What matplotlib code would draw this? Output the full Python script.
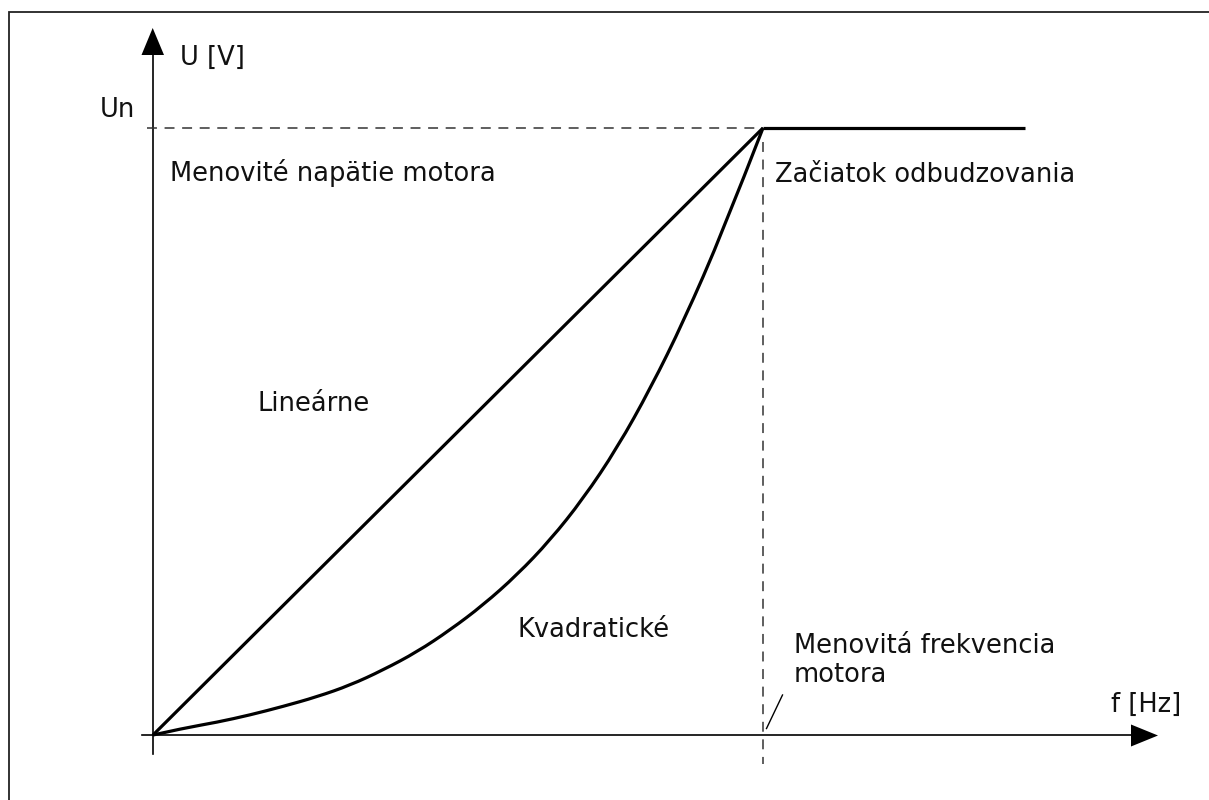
import matplotlib
matplotlib.use("Agg")
import matplotlib.pyplot as plt
from matplotlib.patches import Polygon, PathPatch
from matplotlib.path import Path

# ---- data (normalized: f / f_n, U / U_n) ----
lin_f = [0.0, 1.0]
lin_u = [0.0, 1.0]

quad_f = [0.0, 0.049, 0.105, 0.159, 0.213, 0.269, 0.323, 0.377, 0.433, 0.487,
          0.541, 0.597, 0.651, 0.705, 0.761, 0.816, 0.870, 0.934, 1.0]
quad_u = [0.0, 0.011, 0.021, 0.033, 0.047, 0.063, 0.082, 0.107, 0.137, 0.173,
          0.214, 0.264, 0.321, 0.389, 0.473, 0.572, 0.682, 0.829, 1.0]

flat_f = [1.0, 1.43]
flat_u = [1.0, 1.0]

labels = {
    "y_axis": "U [V]",
    "x_axis": "f [Hz]",
    "un": "Un",
    "rated_voltage": "Menovité napätie motora",
    "field_weakening": "Začiatok odbudzovania",
    "linear": "Lineárne",
    "quadratic": "Kvadratické",
    "rated_freq_1": "Menovitá frekvencia",
    "rated_freq_2": "motora",
}

# ---- layout helpers (pixel -> data) ----
W, H = 1209, 800
X0, Y0 = 153.0, 735.0
SX, SY = 610.0, 607.0


def fx(x):
    return (x - X0) / SX


def uy(y):
    return (Y0 - y) / SY


def P(x, y):
    return (fx(x), uy(y))


fig = plt.figure(figsize=(W / 100, H / 100), dpi=100)
ax = fig.add_axes([0, 0, 1, 1])
ax.set_xlim(fx(0), fx(W))
ax.set_ylim(uy(H), uy(0))
ax.axis("off")

FONT = "DejaVu Sans"
FS = 18.5
TXT = "#111111"

# frame (only left and top visible)
ax.plot([fx(9), fx(9), fx(W + 5)], [uy(H + 5), uy(12), uy(12)],
        color="#222222", lw=1.3, solid_joinstyle="miter", clip_on=False)

# axes lines
ax.plot([fx(142), fx(1135)], [0, 0], color="black", lw=1.2)
ax.plot([0, 0], [uy(754), uy(50)], color="black", lw=1.2)

# arrow heads
ax.add_patch(Polygon([P(1131, 724.5), P(1158, 735.5), P(1131, 746.5)],
                     closed=True, color="black", lw=0))
ax.add_patch(Polygon([P(141.5, 55), P(152.7, 28), P(164, 55)],
                     closed=True, color="black", lw=0))

# dashed reference lines
dash = (0, (6.5, 5.0))
ax.plot([fx(147), 1.0], [1.0, 1.0], color="#333333", lw=1.1, linestyle=dash)
ax.plot([1.0, 1.0], [uy(142), uy(764)], color="#333333", lw=1.1, linestyle=dash)

# curves
ax.plot(lin_f, lin_u, color="black", lw=2.3, solid_capstyle="butt")

# quadratic curve rendered as a smooth quadratic-Bezier path through the read points
pts = list(zip(quad_f, quad_u))
verts = [pts[0]]
codes = [Path.MOVETO]
for i in range(1, len(pts) - 1):
    if i < len(pts) - 2:
        end = ((pts[i][0] + pts[i + 1][0]) / 2, (pts[i][1] + pts[i + 1][1]) / 2)
    else:
        end = pts[-1]
    verts += [pts[i], end]
    codes += [Path.CURVE3, Path.CURVE3]
ax.add_patch(PathPatch(Path(verts, codes), facecolor="none", edgecolor="black",
                       lw=2.3, capstyle="butt"))

ax.plot(flat_f, flat_u, color="black", lw=2.3, solid_capstyle="butt")

# small leader line
ax.plot([fx(766.5), fx(782.5)], [uy(728.5), uy(695)], color="black", lw=1.0)


# texts (baseline-anchored)
def T(x, y, s):
    ax.text(fx(x), uy(y), s, fontsize=FS, family=FONT, color=TXT,
            ha="left", va="baseline")


T(180, 65, labels["y_axis"])
T(100, 117, labels["un"])
T(170, 181, labels["rated_voltage"])
T(775, 182, labels["field_weakening"])
T(257, 411, labels["linear"])
T(518, 637, labels["quadratic"])
T(794, 653, labels["rated_freq_1"])
T(794, 682, labels["rated_freq_2"])
T(1111, 712, labels["x_axis"])

fig.savefig("out.png", dpi=100)
